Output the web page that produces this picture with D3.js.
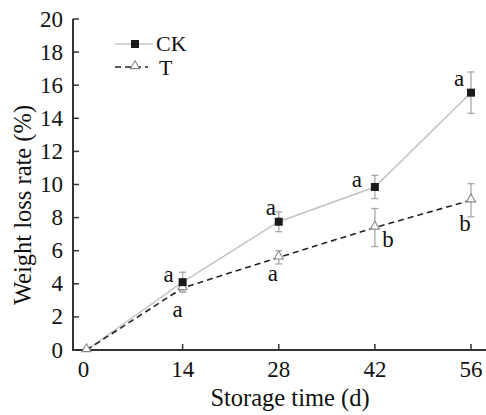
<!DOCTYPE html>
<meta charset="utf-8">
<script src="https://d3js.org/d3.v7.min.js"></script>
<style>
body { margin: 0; background: #fff; }
text { font-family: "Liberation Serif", "DejaVu Serif", serif; fill: #111; }
</style>
<svg id="chart" width="486" height="415"></svg>
<script>
// storage days
var days = [0, 14, 28, 42, 56];
// weight loss rate (%)
var ckValues = [0, 4.1, 7.75, 9.85, 15.55];
var ckErrors = [0, 0.6, 0.6, 0.7, 1.25];
var tValues = [0, 3.75, 5.6, 7.4, 9.05];
var tErrors = [0, 0.2, 0.4, 1.15, 1.0];
var ckLetters = ["", "a", "a", "a", "a"];
var tLetters = ["", "a", "a", "b", "b"];
var yTicks = [0, 2, 4, 6, 8, 10, 12, 14, 16, 18, 20];
var xTicks = [0, 14, 28, 42, 56];

var svg = d3.select("#chart");

var x = d3.scaleLinear().domain([0, 56]).range([86.5, 471]);
var y = d3.scaleLinear().domain([0, 20]).range([350, 19]);

// axes
var axisColor = "#333";
svg.append("line")
  .attr("x1", 73).attr("x2", 73).attr("y1", y(20)).attr("y2", 350.5)
  .attr("stroke", axisColor).attr("stroke-width", 2);
svg.append("line")
  .attr("x1", 72).attr("x2", 486).attr("y1", 350).attr("y2", 350)
  .attr("stroke", axisColor).attr("stroke-width", 2);

svg.selectAll(".ytick")
  .data(yTicks)
  .enter()
  .append("line")
    .attr("x1", 73).attr("x2", 79)
    .attr("y1", function(d){ return y(d) }).attr("y2", function(d){ return y(d) })
    .attr("stroke", axisColor).attr("stroke-width", 1.5);

svg.selectAll(".ylab")
  .data(yTicks)
  .enter()
  .append("text")
    .attr("x", 63)
    .attr("y", function(d){ return y(d) + 7.5 })
    .attr("text-anchor", "end")
    .style("font-size", "23px")
    .text(function(d){ return d });

svg.selectAll(".xtick")
  .data(xTicks.filter(function(d){ return d > 0 }))
  .enter()
  .append("line")
    .attr("x1", function(d){ return x(d) }).attr("x2", function(d){ return x(d) })
    .attr("y1", 350).attr("y2", 344)
    .attr("stroke", axisColor).attr("stroke-width", 1.5);

svg.selectAll(".xlab")
  .data(xTicks)
  .enter()
  .append("text")
    .attr("x", function(d){ return d === 0 ? x(d) - 3 : x(d) })
    .attr("y", 377)
    .attr("text-anchor", "middle")
    .style("font-size", "23px")
    .text(function(d){ return d });

svg.append("text")
  .attr("x", 290).attr("y", 406)
  .attr("text-anchor", "middle")
  .style("font-size", "24.5px")
  .text("Storage time (d)");

svg.append("text")
  .attr("transform", "translate(31,205) rotate(-90)")
  .attr("text-anchor", "middle")
  .style("font-size", "24.5px")
  .text("Weight loss rate (%)");

// lines
var ckData = days.map(function(d, i){ return {x: d, v: ckValues[i], e: ckErrors[i], l: ckLetters[i]} });
var tData = days.map(function(d, i){ return {x: d, v: tValues[i], e: tErrors[i], l: tLetters[i]} });

var line = d3.line().x(function(d){ return x(d.x) }).y(function(d){ return y(d.v) });

svg.append("path")
  .datum(ckData)
  .attr("d", line)
  .attr("fill", "none")
  .attr("stroke", "#c4c4c4")
  .attr("stroke-width", 1.5);

svg.append("path")
  .datum(tData)
  .attr("d", line)
  .attr("fill", "none")
  .attr("stroke", "#222")
  .attr("stroke-width", 1.6)
  .attr("stroke-dasharray", "6,4");

// error bars
function errorBars(data) {
  var g = svg.append("g").attr("stroke", "#a8a8a8").attr("stroke-width", 1.3);
  data.filter(function(d){ return d.e > 0 }).forEach(function(d) {
    var cx = x(d.x);
    g.append("line").attr("x1", cx).attr("x2", cx).attr("y1", y(d.v + d.e)).attr("y2", y(d.v - d.e));
    g.append("line").attr("x1", cx - 3.5).attr("x2", cx + 3.5).attr("y1", y(d.v + d.e)).attr("y2", y(d.v + d.e));
    g.append("line").attr("x1", cx - 3.5).attr("x2", cx + 3.5).attr("y1", y(d.v - d.e)).attr("y2", y(d.v - d.e));
  });
}
errorBars(ckData);
errorBars(tData);

// markers
var tri = d3.symbol().type(d3.symbolTriangle).size(36);
svg.selectAll(".tmark")
  .data(tData)
  .enter()
  .append("path")
    .attr("d", tri)
    .attr("transform", function(d){ return "translate(" + x(d.x) + "," + (y(d.v) - 1) + ")" })
    .attr("fill", "#fff")
    .attr("stroke", "#888")
    .attr("stroke-width", 1.1);

svg.selectAll(".ckmark")
  .data(ckData.filter(function(d){ return d.x > 0 }))
  .enter()
  .append("rect")
    .attr("x", function(d){ return x(d.x) - 4 })
    .attr("y", function(d){ return y(d.v) - 4 })
    .attr("width", 8).attr("height", 8)
    .attr("fill", "#1a1a1a");

// significance letters, offsets per point
var ckOffsets = [[0,0], [-14,0], [-8,-7], [-18,0], [-12,-6.5]];
var tOffsets = [[0,0], [-5,29], [-6,24], [13,19], [-6,31]];

svg.selectAll(".cklet")
  .data(ckData)
  .enter()
  .append("text")
    .attr("x", function(d, i){ return x(d.x) + ckOffsets[i][0] })
    .attr("y", function(d, i){ return y(d.v) + ckOffsets[i][1] })
    .attr("text-anchor", "middle")
    .style("font-size", "23px")
    .text(function(d){ return d.l });

svg.selectAll(".tlet")
  .data(tData)
  .enter()
  .append("text")
    .attr("x", function(d, i){ return x(d.x) + tOffsets[i][0] })
    .attr("y", function(d, i){ return y(d.v) + tOffsets[i][1] })
    .attr("text-anchor", "middle")
    .style("font-size", "23px")
    .text(function(d){ return d.l });

// legend
svg.append("line")
  .attr("x1", 115).attr("x2", 153).attr("y1", 44).attr("y2", 44)
  .attr("stroke", "#c4c4c4").attr("stroke-width", 1.5);
svg.append("rect")
  .attr("x", 131).attr("y", 40).attr("width", 8).attr("height", 8)
  .attr("fill", "#1a1a1a");
svg.append("text")
  .attr("x", 156).attr("y", 51)
  .style("font-size", "22px")
  .text("CK");

svg.append("line")
  .attr("x1", 115).attr("x2", 148).attr("y1", 67).attr("y2", 67)
  .attr("stroke", "#222").attr("stroke-width", 1.6)
  .attr("stroke-dasharray", "6,4");
svg.append("path")
  .attr("d", tri)
  .attr("transform", "translate(135,66)")
  .attr("fill", "#fff").attr("stroke", "#888").attr("stroke-width", 1.1);
svg.append("text")
  .attr("x", 159).attr("y", 75)
  .style("font-size", "22px")
  .text("T");
</script>
